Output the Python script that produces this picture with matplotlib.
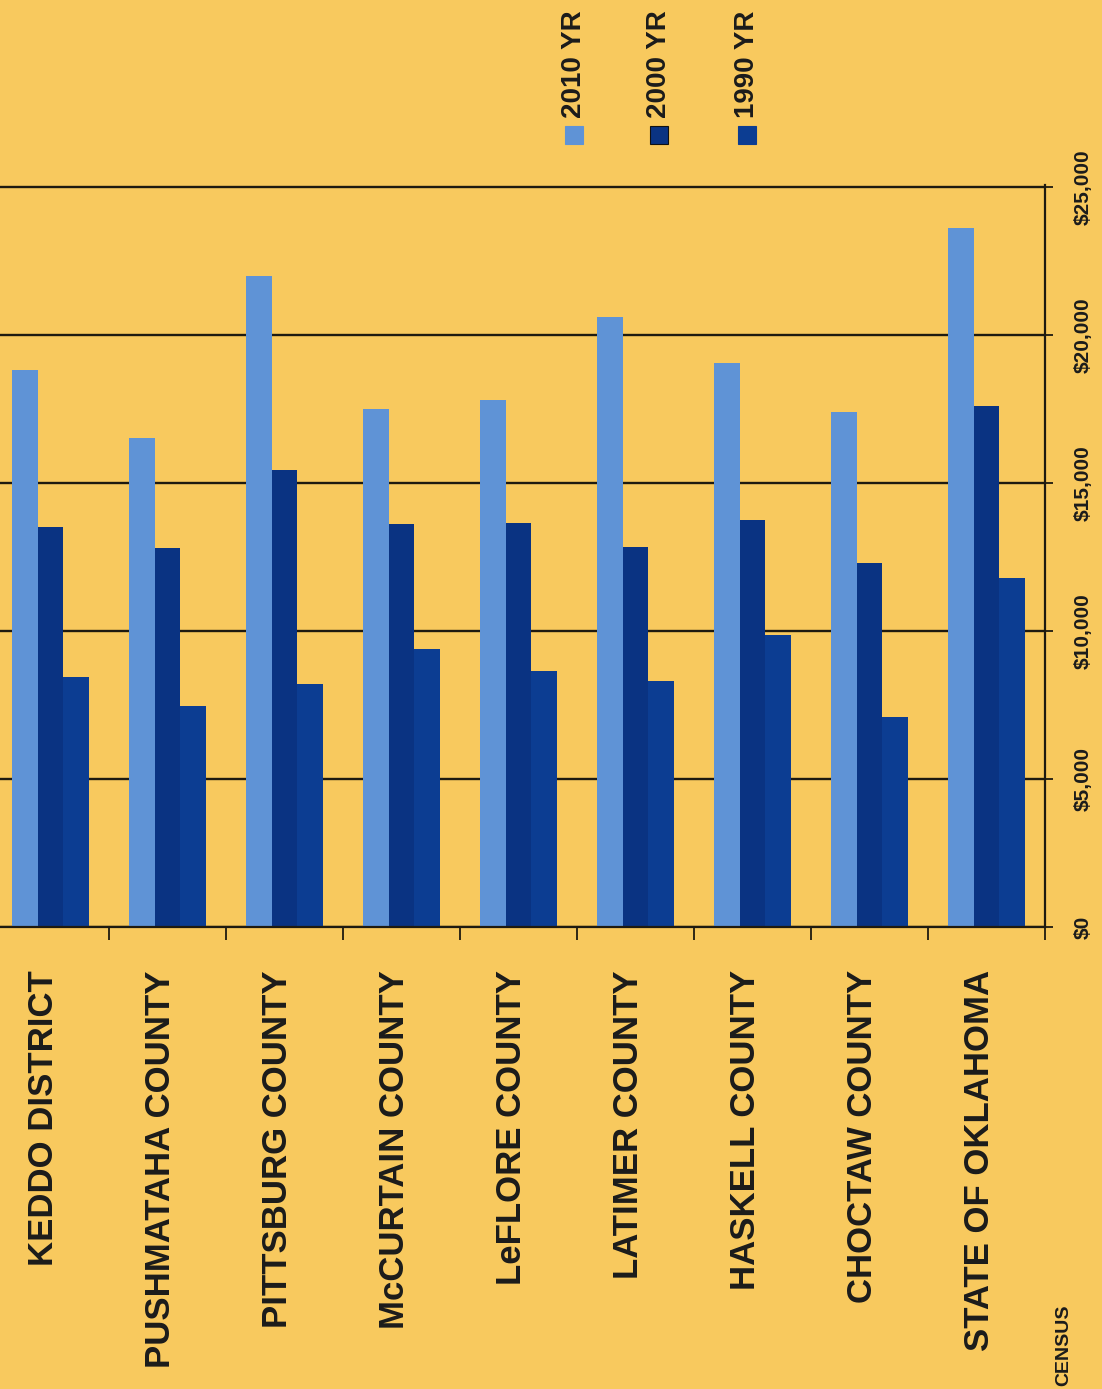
import matplotlib
matplotlib.use("Agg")
import matplotlib.pyplot as plt
from matplotlib import font_manager
from matplotlib.patches import Rectangle
from matplotlib.transforms import blended_transform_factory
from matplotlib.ticker import FuncFormatter, FixedLocator
import numpy as np

# ---------------- data ----------------
categories = ["KEDDO DISTRICT", "PUSHMATAHA COUNTY", "PITTSBURG COUNTY",
              "McCURTAIN COUNTY", "LeFLORE COUNTY", "LATIMER COUNTY",
              "HASKELL COUNTY", "CHOCTAW COUNTY", "STATE OF OKLAHOMA"]
series_names = ["2010 YR", "2000 YR", "1990 YR"]
values_2010 = [18800, 16500, 22000, 17500, 17800, 20600, 19050, 17400, 23600]
values_2000 = [13500, 12800, 15450, 13600, 13650, 12850, 13750, 12300, 17600]
values_1990 = [8450, 7450, 8200, 9400, 8650, 8300, 9850, 7100, 11800]
y_ticks = [0, 5000, 10000, 15000, 20000, 25000]
footnote = "CENSUS"

# ---------------- style ----------------
BG = "#F8C95E"
COLORS = ["#5F93D6", "#0A3382", "#0C3D92"]
TXT = "#1b1b1b"

def pick_font():
    for name in ["Liberation Sans Narrow", "Liberation Sans"]:
        try:
            font_manager.findfont(font_manager.FontProperties(family=name, weight="bold"),
                                  fallback_to_default=False)
            return name
        except Exception:
            continue
    return "DejaVu Sans"

FONT = pick_font()
narrow = FONT == "Liberation Sans Narrow"
cat_size = 30 if narrow else 25
leg_size = 24 if narrow else 20
val_size = 18 if narrow else 15
foot_size = 17 if narrow else 14

W, H = 1102, 1389
fig = plt.figure(figsize=(W / 100, H / 100), dpi=100)
fig.patch.set_facecolor(BG)

L, R, T, B = -8, 1045, 185, 927
ax = fig.add_axes([L / W, (H - B) / H, (R - L) / W, (B - T) / H])
ax.set_facecolor("none")

n = len(categories)
x = np.arange(n)
bw = 0.222
for k, vals in enumerate([values_2010, values_2000, values_1990]):
    ax.bar(x + (k - 1) * bw, vals, width=bw, color=COLORS[k], zorder=2)

ax.set_xlim(-0.5, n - 0.5)
ax.set_ylim(0, 25060)

for s in ["top", "left"]:
    ax.spines[s].set_visible(False)
for s in ["bottom", "right"]:
    ax.spines[s].set_color("#1e1a10")
    ax.spines[s].set_linewidth(1.6)
    ax.spines[s].set_zorder(3)

ax.set_axisbelow(True)
ax.yaxis.grid(True, color="#1e1a10", linewidth=1.7)

ax.yaxis.tick_right()
ax.yaxis.set_major_locator(FixedLocator(y_ticks))
ax.yaxis.set_major_formatter(FuncFormatter(lambda v, p: "${:,.0f}".format(v)))
ax.tick_params(axis="y", which="major", direction="out", length=6, width=1.3,
               color="#1e1a10", pad=15, labelsize=val_size, labelcolor=TXT)
for lab in ax.get_yticklabels():
    lab.set_rotation(90)
    lab.set_va("center")
    lab.set_ha("left")
    lab.set_fontfamily(FONT)
    lab.set_fontweight("bold")

ax.xaxis.set_major_locator(FixedLocator(list(x)))
ax.xaxis.set_minor_locator(FixedLocator(list(x[:-1] + 0.5) + [n - 0.5]))
ax.tick_params(axis="x", which="major", length=0, labelbottom=False)
ax.tick_params(axis="x", which="minor", direction="out", length=9, width=1.3,
               color="#1e1a10")

trans = blended_transform_factory(ax.transData, ax.transAxes)
for i, name in enumerate(categories):
    ax.text(i - 0.06, -0.058, name, transform=trans, rotation=90, ha="center",
            va="top", fontsize=cat_size, fontweight="bold", color=TXT,
            fontfamily=FONT)

# legend (rotated, manual)
leg_x = [574, 659, 747]
for k, name in enumerate(series_names):
    cx = leg_x[k]
    fig.patches.append(Rectangle(((cx - 9) / W, (H - 144) / H), 18 / W, 18 / H,
                                 transform=fig.transFigure, facecolor=COLORS[k],
                                 edgecolor="#111111" if k == 1 else COLORS[k],
                                 linewidth=0.8))
    fig.text(cx / W, (H - 118) / H, name, rotation=90, ha="center", va="bottom",
             fontsize=leg_size, fontweight="bold", color=TXT, fontfamily=FONT)

fig.text(1064 / W, (H - 1386) / H, footnote, rotation=90, ha="center", va="bottom",
         fontsize=foot_size, fontweight="bold", color=TXT, fontfamily=FONT)

fig.savefig("out.png", dpi=100, facecolor=BG)
